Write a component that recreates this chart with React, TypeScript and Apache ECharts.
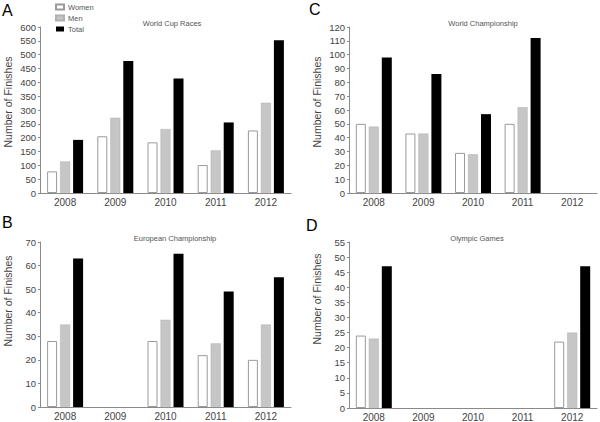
import React, { useEffect, useRef } from "react";
import * as echarts from "echarts";

const years = ["2008", "2009", "2010", "2011", "2012"];

// Panel A – World Cup Races
const wcWomen = [78, 205, 183, 101, 226];
const wcMen = [114, 272, 231, 154, 326];
const wcTotal = [192, 477, 414, 255, 552];

// Panel B – European Championship
const ecWomen = [28, null, 28, 22, 20];
const ecMen = [35, null, 37, 27, 35];
const ecTotal = [63, null, 65, 49, 55];

// Panel C – World Championship
const wchWomen = [50, 43, 29, 50, null];
const wchMen = [48, 43, 28, 62, null];
const wchTotal = [98, 86, 57, 112, null];

// Panel D – Olympic Games
const ogWomen = [24, null, null, null, 22];
const ogMen = [23, null, null, null, 25];
const ogTotal = [47, null, null, null, 47];

const panels = [
  { title: "World Cup Races", letter: "A", women: wcWomen, men: wcMen, total: wcTotal, max: 600, interval: 50 },
  { title: "World Championship", letter: "C", women: wchWomen, men: wchMen, total: wchTotal, max: 120, interval: 10 },
  { title: "European Championship", letter: "B", women: ecWomen, men: ecMen, total: ecTotal, max: 70, interval: 10 },
  { title: "Olympic Games", letter: "D", women: ogWomen, men: ogMen, total: ogTotal, max: 55, interval: 5 },
];

const grids = [
  { left: 40, top: 27, width: 251, height: 166 },
  { left: 349, top: 27, width: 248, height: 166 },
  { left: 40, top: 242, width: 251, height: 165 },
  { left: 349, top: 242, width: 248, height: 166 },
];

const FONT = "Liberation Sans, Arial, sans-serif";

export default function App() {
  const ref = useRef<HTMLDivElement>(null);
  useEffect(() => {
    if (!ref.current) return;
    const chart = echarts.init(ref.current, null, { renderer: "svg" });
    const axisColor = "#8a8a8a";
    const labelColor = "#444";

    const xAxis = panels.map((_, i) => ({
      type: "category",
      gridIndex: i,
      data: years,
      axisLine: { lineStyle: { color: axisColor, width: 1 } },
      axisTick: { show: false },
      axisLabel: { color: labelColor, fontSize: 10, margin: 4, fontFamily: FONT },
    }));
    const yAxis = panels.map((p, i) => ({
      type: "value",
      gridIndex: i,
      min: 0,
      max: p.max,
      interval: p.interval,
      splitLine: { show: false },
      axisLine: { show: true, lineStyle: { color: axisColor, width: 1 } },
      axisTick: { show: true, length: 2, lineStyle: { color: axisColor } },
      axisLabel: { color: labelColor, fontSize: 9.5, margin: 4, fontFamily: FONT },
    }));

    const series: any[] = [];
    panels.forEach((p, i) => {
      series.push({
        name: "Women", type: "bar", xAxisIndex: i, yAxisIndex: i, data: p.women,
        barWidth: 10, barGap: "30%",
        itemStyle: { color: "#ffffff", borderColor: "#9a9a9a", borderWidth: 1 },
      });
      series.push({
        name: "Men", type: "bar", xAxisIndex: i, yAxisIndex: i, data: p.men,
        barWidth: 10, barGap: "30%",
        itemStyle: { color: "#c6c6c6", borderColor: "#b0b0b0", borderWidth: 0.5 },
      });
      series.push({
        name: "Total", type: "bar", xAxisIndex: i, yAxisIndex: i, data: p.total,
        barWidth: 10, barGap: "30%",
        itemStyle: { color: "#000000" },
      });
    });

    const titlePos = [
      { x: 172, y: 23 },
      { x: 483, y: 23 },
      { x: 175, y: 238 },
      { x: 477, y: 238 },
    ];
    const letterPos = [
      { x: 2, y: 10 },
      { x: 309, y: 9 },
      { x: 2, y: 222 },
      { x: 306, y: 225 },
    ];
    const ylabelPos = [
      { x: 8, y: 102 },
      { x: 317, y: 102 },
      { x: 8, y: 301 },
      { x: 317, y: 299 },
    ];

    const graphic: any[] = [];
    panels.forEach((p, i) => {
      graphic.push({
        type: "text", x: titlePos[i].x, y: titlePos[i].y,
        style: { text: p.title, fontSize: 7.5, fill: "#555", fontFamily: FONT, textAlign: "center", textVerticalAlign: "middle" },
      });
      graphic.push({
        type: "text", x: letterPos[i].x, y: letterPos[i].y,
        style: { text: p.letter, fontSize: 16, fill: "#000", fontFamily: FONT, textAlign: "left", textVerticalAlign: "middle" },
      });
      graphic.push({
        type: "text", x: ylabelPos[i].x, y: ylabelPos[i].y, rotation: Math.PI / 2,
        style: { text: "Number of Finishes", fontSize: 10.5, fill: "#444", fontFamily: FONT, textAlign: "center", textVerticalAlign: "middle" },
      });
    });

    chart.setOption({
      animation: false,
      backgroundColor: "#ffffff",
      grid: grids,
      xAxis,
      yAxis,
      series,
      legend: {
        data: ["Women", "Men", "Total"],
        orient: "vertical",
        left: 55,
        top: 3,
        itemWidth: 8,
        itemHeight: 5,
        itemGap: 3,
        icon: "rect",
        textStyle: { fontSize: 7.5, color: "#555", fontFamily: FONT, padding: [0, 0, 0, -1] },
        padding: 0,
      },
      graphic,
    });
    return () => chart.dispose();
  }, []);
  return <div ref={ref} style={{ position: "fixed", left: 0, top: 0, width: 600, height: 422 }} />;
}
